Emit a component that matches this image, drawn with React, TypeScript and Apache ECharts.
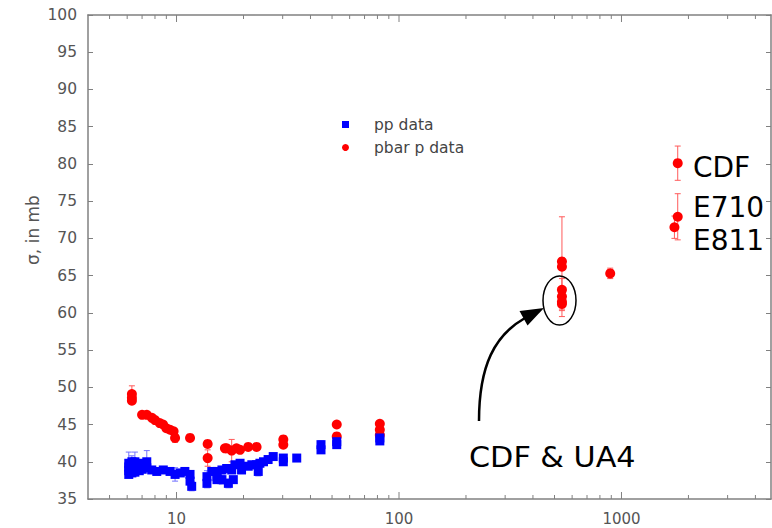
import React, { useEffect, useRef } from "react";
import * as echarts from "echarts";

// ---- axis ticks ----
const xMajorTicks = [10, 100, 1000];
const xMinorTicks = [5, 6, 7, 8, 9, 20, 30, 40, 50, 60, 70, 80, 90, 200, 300, 400, 500, 600, 700, 800, 900, 2000, 3000, 4000];

// ---- pp data (blue squares) ----
const ppX = [6.1, 6.1, 6.1, 6.1, 6.3, 6.3, 6.3, 6.3, 6.5, 6.5, 6.5, 6.8, 6.8, 7.0, 7.0, 7.35, 7.35, 7.74, 8.15, 8.72, 9.35, 9.85, 10.4, 10.9, 11.5, 11.5, 11.7, 13.7, 13.7, 14.4, 15.2, 15.2, 15.2, 16.0, 16.0, 16.8, 17.1, 17.7, 18.0, 18.3, 19.3, 19.6, 21.0, 21.8, 22.9, 23.3, 23.7, 24.6, 25.8, 27.2, 30.2, 30.2, 34.7, 44.6, 44.6, 52.5, 52.5, 82, 82];
const ppY = [39.8, 39.3, 38.8, 38.3, 40.0, 39.5, 39.0, 38.5, 40.0, 39.2, 38.6, 39.5, 38.8, 39.8, 39.0, 40.0, 39.2, 38.9, 38.7, 38.9, 38.7, 38.3, 38.5, 38.7, 37.4, 38.3, 36.7, 38.0, 37.1, 38.7, 38.0, 38.7, 37.6, 37.6, 38.9, 39.1, 37.1, 38.9, 37.6, 39.6, 39.8, 38.9, 39.4, 39.6, 39.6, 38.7, 39.8, 40.0, 40.3, 40.7, 40.5, 40.0, 40.5, 42.3, 41.6, 42.3, 42.7, 43.2, 42.8];
const ppErr = [1.5, 0.4, 0.4, 0.4, 0.8, 0.4, 0.4, 0.4, 1.3, 0.4, 0.4, 0.4, 0.4, 0.5, 0.4, 1.5, 0.4, 0.3, 0.3, 0.3, 0.3, 0.9, 0.3, 0.3, 0.5, 0.3, 0.6, 0.8, 0.6, 0.3, 0.5, 0.3, 0.3, 0.6, 0.3, 0.3, 0.6, 0.3, 0.4, 0.3, 0.3, 0.3, 0.3, 0.3, 0.3, 0.6, 0.3, 0.3, 0.3, 0.3, 0.3, 0.3, 0.3, 0.5, 0.3, 0.4, 0.3, 0.3, 0.3];

// ---- pbar p data (red circles) ----
const pbarX = [6.3, 6.3, 6.3, 7.0, 7.35, 7.75, 8.0, 8.4, 8.7, 9.0, 9.35, 9.7, 9.85, 11.5, 13.8, 13.8, 16.5, 16.8, 17.7, 18.6, 19.3, 21.0, 22.9, 30.2, 30.2, 52.5, 52.5, 82, 82, 82, 540, 540, 540, 540, 540, 540, 890, 1790, 1790, 1730];
const pbarY = [49.1, 48.6, 48.2, 46.3, 46.3, 45.9, 45.6, 45.2, 45.0, 44.5, 44.3, 44.1, 43.2, 43.2, 42.4, 40.5, 41.8, 41.8, 41.5, 41.8, 41.6, 42.0, 42.0, 43.0, 42.3, 45.0, 43.4, 45.1, 44.3, 43.6, 66.2, 66.9, 63.1, 62.2, 61.5, 61.2, 65.3, 80.1, 72.9, 71.5];
const pbarErr = [1.1, 0.5, 0.4, 0.3, 0.3, 0.3, 0.3, 0.3, 0.3, 0.4, 0.3, 0.3, 0.6, 0.3, 0.4, 1.1, 0.3, 0.3, 1.5, 0.3, 0.3, 0.3, 0.3, 0.3, 0.3, 0.3, 0.3, 0.3, 0.3, 0.3, 6.7, 0.5, 1.5, 1.0, 1.0, 0.9, 0.7, 2.3, 3.1, 1.5];

const X_MIN = 4;
const X_MAX = 4700;
const Y_MIN = 35;
const Y_MAX = 100;

const AXIS_COLOR = "#808080";
const LABEL_FONT = "DejaVu Sans";
const NOTE_FONT = "DejaVu Sans";

function makeErrorRender(color: string) {
  return (_params: any, api: any) => {
    const x = api.value(0);
    const y = api.value(1);
    const e = api.value(2);
    if (!e) return null;
    const top = api.coord([x, y + e]);
    const bot = api.coord([x, y - e]);
    const cap = 3;
    const style = { stroke: color, lineWidth: 1 };
    return {
      type: "group",
      children: [
        { type: "line", shape: { x1: top[0], y1: top[1], x2: bot[0], y2: bot[1] }, style },
        { type: "line", shape: { x1: top[0] - cap, y1: top[1], x2: top[0] + cap, y2: top[1] }, style },
        { type: "line", shape: { x1: bot[0] - cap, y1: bot[1], x2: bot[0] + cap, y2: bot[1] }, style },
      ],
    };
  };
}

export default function App() {
  const ref = useRef<HTMLDivElement>(null);

  useEffect(() => {
    if (!ref.current) return;
    const chart = echarts.init(ref.current, null, { renderer: "svg" });

    const ppData = ppX.map((x, i) => [x, ppY[i], ppErr[i] ?? 0]);
    const pbarData = pbarX.map((x, i) => [x, pbarY[i], pbarErr[i] ?? 0]);
    const tickData = [
      ...xMinorTicks.map((v) => [v, Y_MIN, 4]),
      ...xMajorTicks.map((v) => [v, Y_MIN, 7]),
    ];

    const logAxisBase = {
      type: "log",
      logBase: 10,
      min: X_MIN,
      max: X_MAX,
      splitLine: { show: false },
      axisTick: { show: false },
      axisLine: { show: true, lineStyle: { color: AXIS_COLOR, width: 1.5 } },
    };

    chart.setOption({
      animation: false,
      backgroundColor: "#ffffff",
      grid: { left: 88, right: 1, top: 15, bottom: 29, containLabel: false },
      legend: {
        orient: "vertical",
        left: 337,
        top: 111,
        itemWidth: 7,
        itemHeight: 7,
        itemGap: 6,
        textStyle: {
          fontSize: 15.5,
          lineHeight: 17,
          color: "#444",
          fontFamily: LABEL_FONT,
          padding: [0, 0, 0, 20],
        },
        data: [
          { name: "pp data", icon: "rect" },
          { name: "pbar p data", icon: "circle" },
        ],
      },
      xAxis: [
        {
          ...logAxisBase,
          position: "bottom",
          axisLabel: {
            show: true,
            margin: 12,
            fontSize: 15,
            color: "#555",
            fontFamily: LABEL_FONT,
            showMinLabel: false,
            showMaxLabel: false,
            formatter: (v: number) => {
              const r = Math.round(v);
              return xMajorTicks.includes(r) && Math.abs(v - r) < 1e-6 * r ? String(r) : "";
            },
          },
        },
        {
          ...logAxisBase,
          position: "top",
          axisLabel: { show: false },
        },
      ],
      yAxis: [
        {
          type: "value",
          min: Y_MIN,
          max: Y_MAX,
          interval: 5,
          position: "left",
          splitLine: { show: false },
          axisLine: { show: true, lineStyle: { color: AXIS_COLOR, width: 1.5 } },
          axisTick: { show: true, inside: true, length: 5, lineStyle: { color: AXIS_COLOR } },
          axisLabel: { margin: 11, fontSize: 15.5, color: "#555", fontFamily: LABEL_FONT },
        },
        {
          type: "value",
          min: Y_MIN,
          max: Y_MAX,
          interval: 5,
          position: "right",
          splitLine: { show: false },
          axisLine: { show: true, lineStyle: { color: AXIS_COLOR, width: 1.5 } },
          axisTick: { show: true, inside: true, length: 5, lineStyle: { color: AXIS_COLOR } },
          axisLabel: { show: false },
        },
      ],
      series: [
        {
          name: "x ticks",
          type: "custom",
          xAxisIndex: 0,
          yAxisIndex: 0,
          silent: true,
          encode: { x: 0, y: 1 },
          data: tickData,
          renderItem: (_p: any, api: any) => {
            const v = api.value(0);
            const len = api.value(2);
            const b = api.coord([v, Y_MIN]);
            const t = api.coord([v, Y_MAX]);
            const style = { stroke: AXIS_COLOR, lineWidth: 1 };
            return {
              type: "group",
              children: [
                { type: "line", shape: { x1: b[0], y1: b[1], x2: b[0], y2: b[1] - len }, style },
                { type: "line", shape: { x1: t[0], y1: t[1], x2: t[0], y2: t[1] + len }, style },
              ],
            };
          },
          z: 1,
        },
        {
          name: "pbar p error",
          type: "custom",
          xAxisIndex: 0,
          yAxisIndex: 0,
          encode: { x: 0, y: 1 },
          data: pbarData,
          renderItem: makeErrorRender("#ff5a5a"),
          z: 2,
        },
        {
          name: "pbar p data",
          type: "scatter",
          xAxisIndex: 0,
          yAxisIndex: 0,
          symbol: "circle",
          symbolSize: 10,
          itemStyle: { color: "#ff0000", opacity: 1 },
          data: pbarData.map((d) => [d[0], d[1]]),
          z: 3,
        },
        {
          name: "pp error",
          type: "custom",
          xAxisIndex: 0,
          yAxisIndex: 0,
          encode: { x: 0, y: 1 },
          data: ppData,
          renderItem: makeErrorRender("#7474ff"),
          z: 4,
        },
        {
          name: "pp data",
          type: "scatter",
          xAxisIndex: 0,
          yAxisIndex: 0,
          symbol: "rect",
          symbolSize: 9,
          itemStyle: { color: "#0000ff", opacity: 1 },
          data: ppData.map((d) => [d[0], d[1]]),
          z: 5,
        },
      ],
      graphic: [
        {
          type: "text",
          x: 33,
          y: 230,
          rotation: Math.PI / 2,
          style: {
            text: "σ, in mb",
            fontSize: 17,
            fontFamily: LABEL_FONT,
            fill: "#555",
            align: "center",
            verticalAlign: "middle",
          },
          z: 10,
        },
        {
          type: "text",
          x: 693,
          y: 167,
          style: { text: "CDF", fontSize: 28, fontFamily: NOTE_FONT, fill: "#000", align: "left", verticalAlign: "middle" },
          z: 10,
        },
        {
          type: "text",
          x: 693,
          y: 207,
          style: { text: "E710", fontSize: 28, fontFamily: NOTE_FONT, fill: "#000", align: "left", verticalAlign: "middle" },
          z: 10,
        },
        {
          type: "text",
          x: 693,
          y: 240,
          style: { text: "E811", fontSize: 28, fontFamily: NOTE_FONT, fill: "#000", align: "left", verticalAlign: "middle" },
          z: 10,
        },
        {
          type: "text",
          x: 469,
          y: 457,
          scaleX: 1.08,
          style: { text: "CDF & UA4", fontSize: 28, fontFamily: NOTE_FONT, fill: "#000", align: "left", verticalAlign: "middle" },
          z: 10,
        },
        {
          type: "ellipse",
          shape: { cx: 559.5, cy: 300.5, rx: 16.5, ry: 24.5 },
          style: { fill: "none", stroke: "#000", lineWidth: 1.5 },
          z: 10,
        },
        {
          type: "bezierCurve",
          shape: { x1: 479, y1: 421, cpx1: 479, cpy1: 365, cpx2: 495, cpy2: 335, x2: 525, y2: 318 },
          style: { fill: "none", stroke: "#000", lineWidth: 2.5 },
          z: 10,
        },
        {
          type: "polygon",
          shape: { points: [[544, 308], [519.5, 311], [527.5, 325.5]] },
          style: { fill: "#000" },
          z: 10,
        },
      ],
    });

    return () => chart.dispose();
  }, []);

  return (
    <div
      ref={ref}
      style={{ position: "absolute", left: 0, top: 0, width: 772, height: 528, background: "#fff" }}
    />
  );
}
